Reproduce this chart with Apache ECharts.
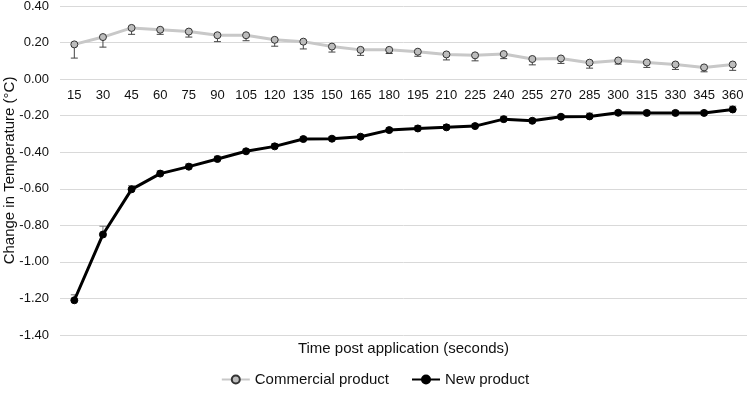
<!DOCTYPE html>
<html>
<head>
<meta charset="utf-8">
<script src="https://cdn.jsdelivr.net/npm/echarts@6/dist/echarts.min.js"></script>
<style>
html,body{margin:0;padding:0;background:#fff}
#chart{width:750px;height:393px}
</style>
</head>
<body>
<div id="chart"></div>
<script>
// time points (seconds)
const times = ['15','30','45','60','75','90','105','120','135','150','165','180',
  '195','210','225','240','255','270','285','300','315','330','345','360']
// commercial product mean change + error (drawn downwards)
const commercial = [0.19,0.23,0.28,0.27,0.26,0.24,0.24,0.215,0.205,0.178,0.16,0.16,
  0.15,0.135,0.13,0.137,0.11,0.113,0.09,0.102,0.091,0.08,0.064,0.08]
const commercialErr = [0.075,0.055,0.035,0.025,0.03,0.035,0.03,0.035,0.04,0.03,0.03,0.02,
  0.025,0.03,0.03,0.025,0.032,0.027,0.03,0.02,0.027,0.027,0.024,0.032]
// new product mean change + error (drawn upwards)
const newProduct = [-1.21,-0.85,-0.603,-0.517,-0.479,-0.437,-0.395,-0.368,-0.328,-0.326,-0.315,-0.279,
  -0.27,-0.264,-0.257,-0.219,-0.228,-0.206,-0.204,-0.184,-0.185,-0.185,-0.185,-0.166]
const newProductErr = [0.03,0.045,0.02,0.015,0.015,0.015,0.012,0.015,0.012,0.012,0.012,0.012,
  0.015,0.015,0.012,0.015,0.012,0.012,0.018,0.012,0.012,0.012,0.012,0.018]
const yMin = -1.4, yMax = 0.4, yStep = 0.2

const font = 'Liberation Sans, Arial, sans-serif'

function errData(vals, errs, dir){
  return vals.map((v,i)=>[i, v, v + dir*errs[i]])
}

function errSeries(name, vals, errs, dir, color){
  return {
    type: 'custom',
    name: name + ' err',
    xAxisIndex: 0,
    yAxisIndex: 0,
    z: 1,
    silent: true,
    encode: { x: 0, y: [1,2] },
    data: errData(vals, errs, dir),
    renderItem: function(params, api){
      const a = api.coord([api.value(0), api.value(1)])
      const b = api.coord([api.value(0), api.value(2)])
      return {
        type: 'group',
        children: [
          { type: 'line', shape: { x1: a[0], y1: a[1], x2: b[0], y2: b[1] },
            style: { stroke: color, lineWidth: 1 } },
          { type: 'line', shape: { x1: b[0]-3.5, y1: b[1], x2: b[0]+3.5, y2: b[1] },
            style: { stroke: color, lineWidth: 1 } }
        ]
      }
    }
  }
}

const el = document.getElementById('chart')
const mychart = echarts.init(el)
const gridBox = { left: 60, right: 3, top: 6, bottom: 58, containLabel: false, outerBoundsMode: 'none' }
// the category labels sit on the zero line: lift the axis up from the grid bottom
const gridH = el.clientHeight - gridBox.top - gridBox.bottom
const zeroLift = -gridH * (0 - yMin) / (yMax - yMin)

const option = {
  animation: false,
  textStyle: { fontFamily: font },
  grid: [gridBox, Object.assign({}, gridBox)],
  legend: {
    bottom: 1,
    left: 'center',
    itemWidth: 28,
    itemHeight: 10,
    itemGap: 22,
    textStyle: { fontSize: 15, color: '#111', fontFamily: font },
    data: ['Commercial product', 'New product']
  },
  xAxis: [{
    type: 'category',
    gridIndex: 0,
    data: times,
    position: 'bottom',
    offset: zeroLift,
    axisLine: { show: false, onZero: false },
    axisTick: { show: false },
    axisLabel: { fontSize: 13, color: '#111', margin: 10, interval: 0 }
  }, {
    // only carries the axis title, sits at the bottom of the plot
    type: 'category',
    gridIndex: 1,
    data: times,
    position: 'bottom',
    axisLine: { show: false, onZero: false },
    axisTick: { show: false },
    axisLabel: { show: false },
    name: 'Time post application (seconds)',
    nameLocation: 'middle',
    nameGap: 6,
    nameMoveOverlap: false,
    nameTextStyle: { fontSize: 15, color: '#111' }
  }],
  yAxis: [{
    type: 'value',
    gridIndex: 0,
    min: yMin,
    max: yMax,
    interval: yStep,
    name: 'Change in Temperature (°C)',
    nameLocation: 'middle',
    nameGap: 43,
    nameMoveOverlap: false,
    nameTextStyle: { fontSize: 15, color: '#111' },
    axisLabel: { fontSize: 13, color: '#111', margin: 11, formatter: v => v.toFixed(2) },
    splitLine: { lineStyle: { color: '#d9d9d9', width: 1 } }
  }, {
    type: 'value',
    gridIndex: 1,
    min: yMin,
    max: yMax,
    show: false
  }],
  series: [
    errSeries('Commercial product', commercial, commercialErr, -1, '#444'),
    errSeries('New product', newProduct, newProductErr, 1, '#777'),
    {
      name: 'Commercial product',
      type: 'line',
      z: 3,
      data: commercial,
      symbol: 'circle',
      symbolSize: 7,
      lineStyle: { color: '#c8c8c8', width: 3 },
      itemStyle: { color: '#bdbdbd', borderColor: '#333', borderWidth: 1 }
    },
    {
      name: 'New product',
      type: 'line',
      z: 4,
      data: newProduct,
      symbol: 'circle',
      symbolSize: 7,
      lineStyle: { color: '#000', width: 3 },
      itemStyle: { color: '#000', borderColor: '#000', borderWidth: 1 }
    }
  ]
}
mychart.setOption(option)
</script>
</body>
</html>
